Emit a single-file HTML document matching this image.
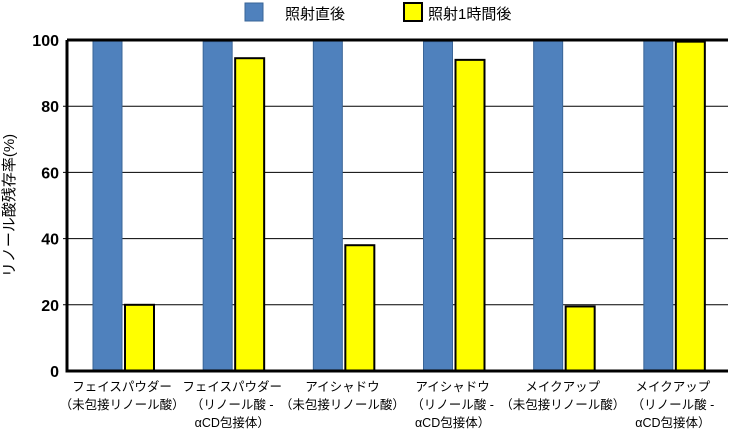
<!DOCTYPE html>
<html><head><meta charset="utf-8"><style>
body{margin:0;background:#fff;}
svg{display:block;font-family:"Liberation Sans","Noto Sans CJK JP",sans-serif;}
</style></head><body>
<svg id="c" width="729" height="433"></svg>
<script>
const categories=[["フェイスパウダー","（未包接リノール酸）"],["フェイスパウダー","（リノール酸 -","αCD包接体）"],["アイシャドウ","（未包接リノール酸）"],["アイシャドウ","（リノール酸 -","αCD包接体）"],["メイクアップ","（未包接リノール酸）"],["メイクアップ","（リノール酸 -","αCD包接体）"]];
const seriesImmediate=[100,99.5,100,99.5,99.8,100];
const seriesOneHour=[20,94.5,38,94,19.5,99.5];
const yTicks=[0,20,40,60,80,100];
const seriesNames=["照射直後","照射1時間後"];
const NS="http://www.w3.org/2000/svg";
const svg=document.getElementById('c');
const L=67,R=728,T=40,B=371;
const y=v=>B-(v/100)*(B-T);
const gw=(R-L)/6;
const gx=i=>L+gw*i;
function mk(t,a){const e=document.createElementNS(NS,t);for(const k in a)e.setAttribute(k,a[k]);svg.appendChild(e);return e;}
yTicks.forEach(t=>{
  if(t>0&&t<100){const g=mk('line',{x1:L-4,x2:R,y1:y(t),y2:y(t),stroke:'#000','stroke-width':1});
  
  }
  const tx=mk('text',{x:L-8,y:y(t)+6,'text-anchor':'end','font-size':16,'font-weight':'bold'});
  tx.textContent=t;
  
  
});
seriesImmediate.forEach((v,i)=>{
  const r=mk('rect',{x:gx(i)+26,y:y(v),width:29,height:B-y(v),fill:'#4f81bd',stroke:'#3a6597','stroke-width':1});
  
  
});
seriesOneHour.forEach((v,i)=>{
  const r=mk('rect',{x:gx(i)+58,y:y(v),width:29,height:B-y(v),fill:'#ffff00',stroke:'#000','stroke-width':2});
  
  
});
const ax=mk('path',{d:`M${L},${T} L${R},${T} M${L},${T} L${L},${B} L${R},${B}`,stroke:'#000','stroke-width':3,fill:'none'});


categories.forEach((lines,i)=>{
  lines.forEach((s,j)=>{
    const t=mk('text',{x:gx(i)+gw/2,y:391+j*18,'text-anchor':'middle','font-size':12.5});
    t.textContent=s;
    
    
  });
});
const yt=mk('text',{x:0,y:0,'text-anchor':'middle','font-size':15,transform:`translate(14,${(T+B)/2}) rotate(-90)`});
yt.textContent='リノール酸残存率(%)';


const lg=[[245,'#4f81bd','#3a6597',285],[404,'#ffff00','#000',428]];
lg.forEach((l,k)=>{
  const r=mk('rect',{x:l[0],y:3,width:18,height:18,fill:l[1],stroke:l[2],'stroke-width':k?2:1});
  
  
  const t=mk('text',{x:l[3],y:19,'font-size':15});
  t.textContent=seriesNames[k];
  
  
});
</script>
</body></html>
